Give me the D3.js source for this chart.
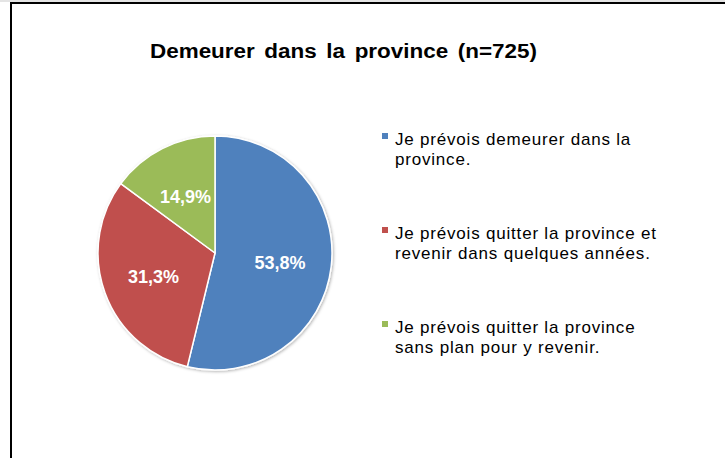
<!DOCTYPE html>
<html>
<head>
<meta charset="utf-8">
<script src="https://cdn.jsdelivr.net/npm/d3@7"></script>
<style>
  body { margin: 0; background: #fff; }
  svg { display: block; font-family: Arial, "Liberation Sans", sans-serif; }
</style>
</head>
<body>
<svg width="725" height="458"></svg>
<script>
var categories = [
    ["Je prévois demeurer dans la", "province."],
    ["Je prévois quitter la province et", "revenir dans quelques années."],
    ["Je prévois quitter la province", "sans plan pour y revenir."]
];
var values = [53.8, 31.3, 14.9];
var labels = ["53,8%", "31,3%", "14,9%"];
var colors = ["#4F81BD", "#C0504D", "#9BBB59"];
var title = "Demeurer dans la province (n=725)";

var svg = d3.select("svg"),
    cx = 215, cy = 253, radius = 117;

// frame of the screenshot
svg.append("rect").attr("x", 0).attr("y", 0).attr("width", 725).attr("height", 2).attr("fill", "#e4e4e4");
svg.append("rect").attr("x", 10).attr("y", 2).attr("width", 715).attr("height", 2).attr("fill", "#000");
svg.append("rect").attr("x", 10).attr("y", 2).attr("width", 2).attr("height", 456).attr("fill", "#000");

svg.append("text")
    .attr("x", 150)
    .attr("y", 58)
    .attr("textLength", 387)
    .attr("lengthAdjust", "spacingAndGlyphs")
    .style("font-size", "20px")
    .style("font-weight", "bold")
    .style("word-spacing", "3px")
    .text(title);

var defs = svg.append("defs");
var filter = defs.append("filter").attr("id", "shadow")
    .attr("x", "-10%").attr("y", "-10%").attr("width", "120%").attr("height", "120%");
filter.append("feDropShadow")
    .attr("dx", 1).attr("dy", 1).attr("stdDeviation", 1.5)
    .attr("flood-color", "#000").attr("flood-opacity", 0.3);

var pie = d3.pie().sort(null).value(function(d) { return d; });
var arc = d3.arc().innerRadius(0).outerRadius(radius);
var labelArc = d3.arc().innerRadius(radius * 0.56).outerRadius(radius * 0.56);

var g = svg.append("g")
    .attr("transform", "translate(" + cx + "," + cy + ")");

var arcs = pie(values);

g.append("g").attr("filter", "url(#shadow)")
    .selectAll("path")
    .data(arcs)
    .enter().append("path")
        .attr("d", arc)
        .attr("fill", function(d, i) { return colors[i]; })
        .attr("stroke", "#fff")
        .attr("stroke-width", 1.5)
        .attr("stroke-linejoin", "round");

g.selectAll(".lbl")
    .data(arcs)
    .enter().append("text")
        .attr("class", "lbl")
        .attr("transform", function(d) { return "translate(" + labelArc.centroid(d) + ")"; })
        .attr("text-anchor", "middle")
        .attr("dy", "0.45em")
        .attr("fill", "#fff")
        .style("font-size", "18px")
        .style("font-weight", "bold")
        .text(function(d, i) { return labels[i]; });

// legend
var ly = d3.scalePoint().domain(d3.range(categories.length)).range([145, 333]);

var item = svg.selectAll(".legend")
    .data(categories)
    .enter().append("g")
        .attr("class", "legend")
        .attr("transform", function(d, i) { return "translate(382," + ly(i) + ")"; });

item.append("rect")
    .attr("x", 0).attr("y", -12)
    .attr("width", 6).attr("height", 6)
    .attr("fill", function(d, i) { return colors[i]; });

item.selectAll("text")
    .data(function(d) { return d; })
    .enter().append("text")
        .attr("x", 13)
        .attr("y", function(d, j) { return j * 20; })
        .attr("fill", "#000")
        .style("font-size", "17px")
        .style("letter-spacing", "0.8px")
        .text(function(d) { return d; });
</script>
</body>
</html>
